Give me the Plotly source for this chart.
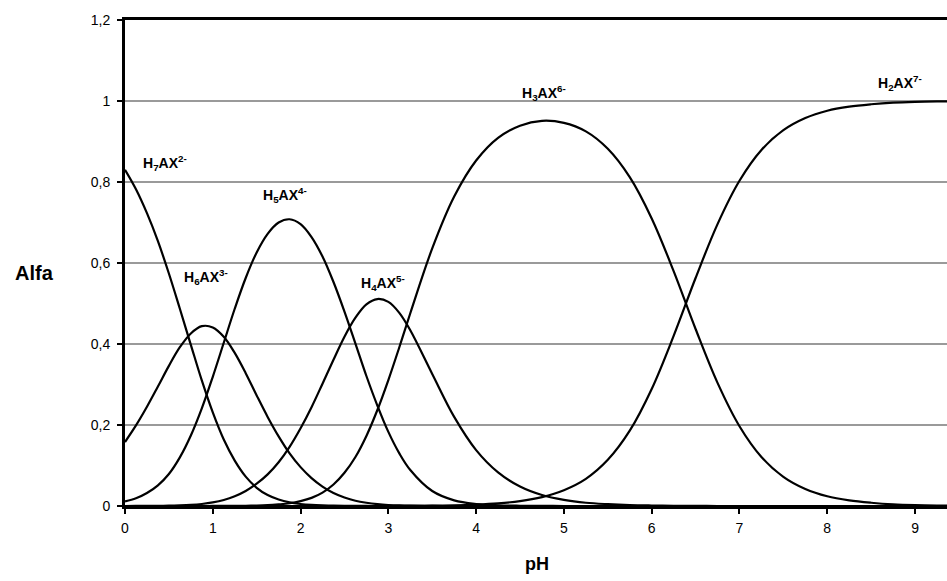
import plotly.graph_objects as go

ph = [0, 0.125, 0.25, 0.375, 0.5, 0.625, 0.75, 0.875, 1.0, 1.125, 1.25, 1.375, 1.5, 1.625,
      1.75, 1.875, 2.0, 2.125, 2.25, 2.375, 2.5, 2.625, 2.75, 2.875, 3.0, 3.125, 3.25,
      3.5, 3.75, 4.0, 4.25, 4.5, 4.75, 5.0, 5.25, 5.5, 5.75, 6.0, 6.25, 6.5, 6.75, 7.0,
      7.25, 7.5, 7.75, 8.0, 8.25, 8.5, 8.75, 9.0, 9.25, 9.5]

h7 = [0.830, 0.782, 0.723, 0.654, 0.574, 0.487, 0.398, 0.310, 0.231, 0.164, 0.112, 0.0725,
      0.045, 0.027, 0.016, 0.009, 0.005, 0.0027, 0.0014, 0.0007, 0.0003, 0.0002, 0.0001,
      0, 0, 0, 0] + [0] * 25
h6 = [0.158, 0.199, 0.245, 0.295, 0.346, 0.392, 0.426, 0.444, 0.441, 0.418, 0.378, 0.328,
      0.273, 0.220, 0.172, 0.130, 0.096, 0.069, 0.048, 0.032, 0.021, 0.013, 0.008, 0.0046,
      0.0025, 0.0013, 0.0007] + [0.0002] + [0] * 24
h5 = [0.0115, 0.019, 0.032, 0.051, 0.079, 0.120, 0.174, 0.241, 0.319, 0.403, 0.487, 0.563,
      0.626, 0.672, 0.700, 0.708, 0.696, 0.664, 0.616, 0.553, 0.480, 0.401, 0.321, 0.248,
      0.183, 0.130, 0.089] + [0.037, 0.014, 0.005, 0.0017, 0.0006, 0.0002] + [0] * 19
h4 = [0, 0.0001, 0.0002, 0.0003, 0.0007, 0.0014, 0.0027, 0.005, 0.0088, 0.0148, 0.024, 0.037,
      0.055, 0.078, 0.108, 0.146, 0.192, 0.244, 0.302, 0.361, 0.418, 0.465, 0.498, 0.511,
      0.504, 0.477, 0.434] + [0.326, 0.220, 0.138, 0.083, 0.048, 0.027, 0.015, 0.008, 0.0045,
                              0.0023, 0.0012, 0.0005, 0.0002] + [0] * 12
h3 = [0, 0, 0, 0, 0, 0, 0, 0, 0.0001, 0.0001, 0.0003, 0.0005, 0.001, 0.002, 0.004, 0.0068,
      0.012, 0.020, 0.033, 0.053, 0.082, 0.121, 0.173, 0.237, 0.311, 0.392, 0.476,
      0.636, 0.764, 0.853, 0.909, 0.939, 0.951, 0.946, 0.925, 0.882, 0.812, 0.710, 0.580,
      0.437, 0.304, 0.197, 0.121, 0.072, 0.042, 0.024, 0.014, 0.008, 0.004, 0.002, 0.001, 0.001]
h2 = [0] * 24 + [0.0001, 0.0002, 0.0003,
                 0.0008, 0.0017, 0.0035, 0.0066, 0.012, 0.022, 0.039, 0.067, 0.114, 0.186,
                 0.289, 0.420, 0.563, 0.696, 0.803, 0.879, 0.928, 0.958, 0.976, 0.986, 0.992,
                 0.996, 0.998, 0.999, 0.999]

series = [h7, h6, h5, h4, h3, h2]
names = ["H<sub>7</sub>AX<sup>2-</sup>", "H<sub>6</sub>AX<sup>3-</sup>", "H<sub>5</sub>AX<sup>4-</sup>",
         "H<sub>4</sub>AX<sup>5-</sup>", "H<sub>3</sub>AX<sup>6-</sup>", "H<sub>2</sub>AX<sup>7-</sup>"]
label_x = [0.456, 0.917, 1.828, 2.939, 4.773, 8.823]
label_y = [0.847, 0.565, 0.768, 0.551, 1.020, 1.044]

fig = go.Figure()
for s, n in zip(series, names):
    fig.add_trace(go.Scatter(x=ph, y=s, mode="lines", name=n,
                             line=dict(color="black", width=2.2, shape="spline", smoothing=1),
                             showlegend=False, hoverinfo="skip"))

for n, lx, ly in zip(names, label_x, label_y):
    fig.add_annotation(x=lx, y=ly, text="<b>" + n + "</b>", showarrow=False,
                       xanchor="center", yanchor="middle",
                       font=dict(family="Liberation Sans, Arial", size=14, color="black"))

fig.add_annotation(xref="paper", yref="paper", x=-0.1095, y=0.48, xanchor="center",
                   yanchor="middle", text="<b>Alfa</b>", showarrow=False,
                   font=dict(family="Liberation Sans, Arial", size=20, color="black"))
fig.add_annotation(xref="paper", yref="paper", x=0.501, y=-0.12, xanchor="center",
                   yanchor="middle", text="<b>pH</b>", showarrow=False,
                   font=dict(family="Liberation Sans, Arial", size=18, color="black"))

fig.update_layout(
    width=947, height=581,
    margin=dict(l=125, r=0, t=20, b=75),
    paper_bgcolor="white", plot_bgcolor="white",
    separators=", ",
    font=dict(family="Liberation Sans, Arial", size=12, color="black"),
    xaxis=dict(range=[0, 9.364], tickvals=list(range(10)), showgrid=False, zeroline=False,
               showline=True, linecolor="black", linewidth=3, mirror=True,
               ticks="outside", ticklen=5, tickwidth=2, tickcolor="black",
               tickfont=dict(size=14), ticklabelstandoff=2),
    yaxis=dict(range=[0, 1.2], dtick=0.2, showgrid=True, gridcolor="#9a9a9a", gridwidth=2,
               zeroline=False, showline=True, linecolor="black", linewidth=3,
               ticks="outside", ticklen=5, tickwidth=2, tickcolor="black",
               tickfont=dict(size=14), ticklabelstandoff=4),
)

fig.write_html("out.html")
